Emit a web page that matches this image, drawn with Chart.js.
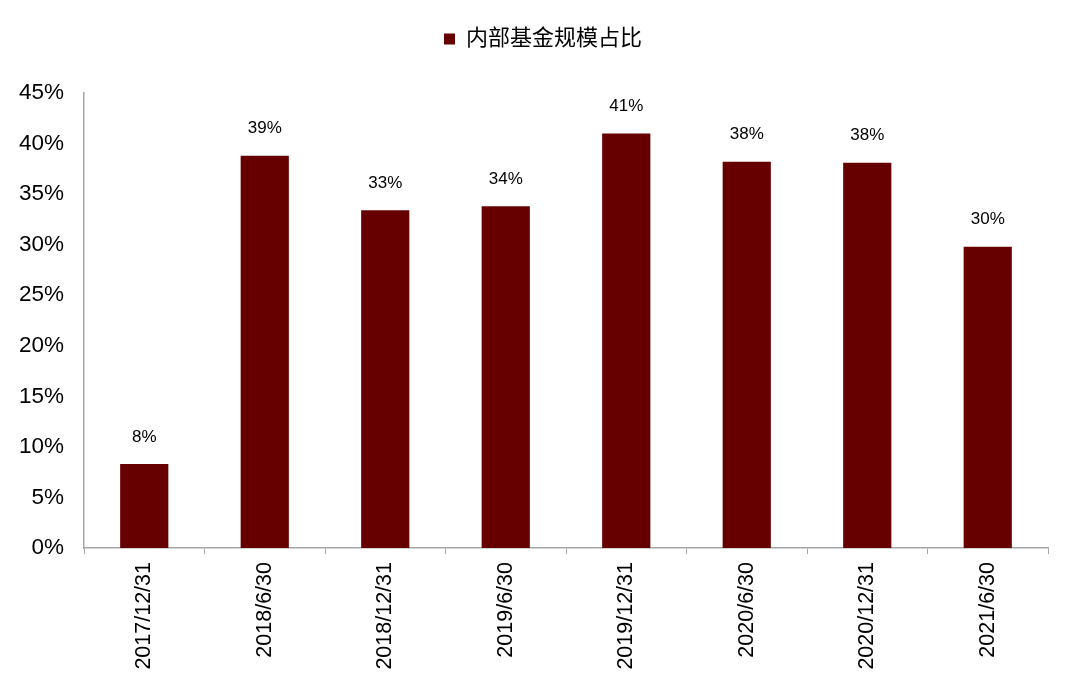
<!DOCTYPE html>
<html><head><meta charset="utf-8">
<script src="https://cdn.jsdelivr.net/npm/chart.js@4"></script>
<style>html,body{margin:0;padding:0;background:#fff}#wrap{width:1080px;height:692px}</style>
</head><body><div id="wrap"><canvas id="c" width="1080" height="692"></canvas></div>
<script>
const categories = ['2017/12/31','2018/6/30','2018/12/31','2019/6/30','2019/12/31','2020/6/30','2020/12/31','2021/6/30'];
const seriesName = '内部基金规模占比';
const values = [8.3, 38.8, 33.4, 33.8, 41.0, 38.2, 38.1, 29.8];
const dataLabels = ['8%','39%','33%','34%','41%','38%','38%','30%'];
const yTicks = [0,5,10,15,20,25,30,35,40,45];

const FONT = "'Liberation Sans', Arial, 'Noto Sans CJK SC', sans-serif";
const barColor = '#660000';
const axisColor = '#a6a6a6';

const labelPlugin = {
  id: 'valueLabels',
  beforeInit(chart) {
    const lg = chart.legend;
    if (lg) {
      const origFit = lg.fit;
      lg.fit = function () { origFit.call(this); this.height += 33; };
    }
  },
  afterLayout(chart) {
    const lg = chart.legend;
    if (lg) { lg.left += 19; lg.right += 19; }
  },
  afterDatasetsDraw(chart) {
    const ctx = chart.ctx;
    const meta = chart.getDatasetMeta(0);
    ctx.save();
    ctx.font = '17px ' + FONT;
    ctx.fillStyle = '#000';
    ctx.textAlign = 'center';
    ctx.textBaseline = 'middle';
    meta.data.forEach((bar, i) => {
      ctx.fillText(dataLabels[i], bar.x, bar.y - 27);
    });
    ctx.restore();
  }
};

new Chart(document.getElementById('c'), {
  type: 'bar',
  data: {
    labels: categories,
    datasets: [{
      label: seriesName,
      data: values,
      backgroundColor: barColor,
      borderWidth: 0,
      categoryPercentage: 0.8,
      barPercentage: 0.5
    }]
  },
  options: {
    responsive: false,
    animation: false,
    devicePixelRatio: 1,
    layout: { padding: { top: 8, right: 32, left: 0, bottom: 0 } },
    plugins: {
      legend: {
        display: true,
        position: 'top',
        labels: {
          font: { family: FONT, size: 22 },
          color: '#000',
          boxWidth: 11,
          boxHeight: 11,
          padding: 20
        }
      },
      tooltip: { enabled: false }
    },
    scales: {
      x: {
        offset: true,
        grid: {
          offset: true,
          drawOnChartArea: false,
          drawTicks: true,
          tickLength: 6,
          color: axisColor
        },
        border: { display: true, color: axisColor, width: 1.5 },
        ticks: {
          font: { family: FONT, size: 21.5 },
          color: '#000',
          minRotation: 90,
          maxRotation: 90,
          padding: 8
        },
        afterFit(s) { s.height = 144; }
      },
      y: {
        min: 0,
        max: 45,
        afterBuildTicks(s) { s.ticks = yTicks.map(v => ({ value: v })); },
        grid: { display: false, drawTicks: false },
        border: { display: true, color: axisColor, width: 1.5 },
        ticks: {
          font: { family: FONT, size: 22.5 },
          color: '#000',
          padding: 20,
          callback: v => v + '%'
        },
        afterFit(s) { s.width = 84; }
      }
    }
  },
  plugins: [labelPlugin]
});
</script>
</body></html>
